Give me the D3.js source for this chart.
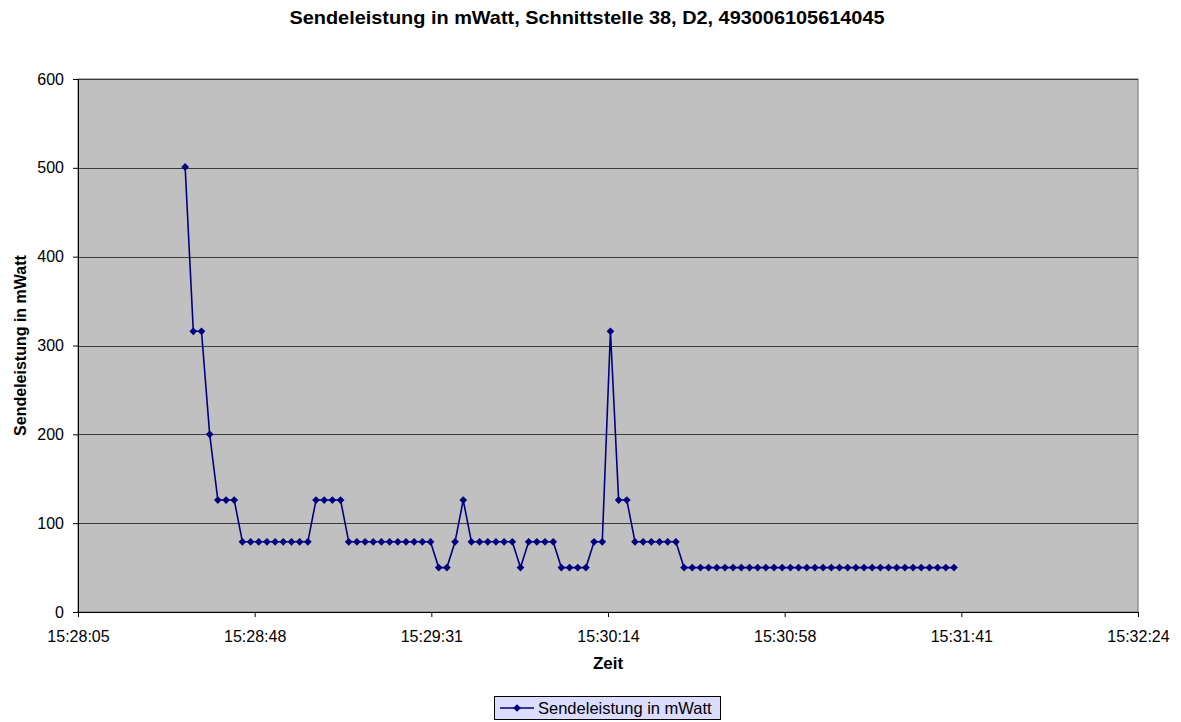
<!DOCTYPE html>
<html>
<head>
<meta charset="utf-8">
<script src="https://cdn.jsdelivr.net/npm/d3@7"></script>
<style>
  body { margin: 0; background: #fff; }
  svg text { font-family: "Liberation Sans", Arial, sans-serif; }
</style>
</head>
<body>
<div class="container"></div>
<script>
const w = 1181;
const h = 722;
const margin = { top: 79, bottom: 110, left: 78, right: 43 };
const width = w - margin.left - margin.right;
const height = h - margin.top - margin.bottom;

const title = "Sendeleistung in mWatt, Schnittstelle 38, D2, 493006105614045";
const seriesName = "Sendeleistung in mWatt";

// sample times (hh:mm:ss)
const times = [
  "15:28:31","15:28:33","15:28:35","15:28:37","15:28:39","15:28:41","15:28:43","15:28:45",
  "15:28:47","15:28:49","15:28:51","15:28:53","15:28:55","15:28:57","15:28:59",
  "15:29:01","15:29:03","15:29:05","15:29:07","15:29:09","15:29:11","15:29:13","15:29:15",
  "15:29:17","15:29:19","15:29:21","15:29:23","15:29:25","15:29:27","15:29:29","15:29:31",
  "15:29:33","15:29:35","15:29:37","15:29:39","15:29:41","15:29:43","15:29:45","15:29:47",
  "15:29:49","15:29:51","15:29:53","15:29:55","15:29:57","15:29:59",
  "15:30:01","15:30:03","15:30:05","15:30:07","15:30:09","15:30:11","15:30:13","15:30:15",
  "15:30:17","15:30:19","15:30:21","15:30:23","15:30:25","15:30:27","15:30:29","15:30:31",
  "15:30:33","15:30:35","15:30:37","15:30:39","15:30:41","15:30:43","15:30:45","15:30:47",
  "15:30:49","15:30:51","15:30:53","15:30:55","15:30:57","15:30:59",
  "15:31:01","15:31:03","15:31:05","15:31:07","15:31:09","15:31:11","15:31:13","15:31:15",
  "15:31:17","15:31:19","15:31:21","15:31:23","15:31:25","15:31:27","15:31:29","15:31:31",
  "15:31:33","15:31:35","15:31:37","15:31:39"
];

// transmit power in mW
const power = [
  501, 316, 316, 200, 126, 126, 126,
  79, 79, 79, 79, 79, 79, 79, 79, 79,
  126, 126, 126, 126,
  79, 79, 79, 79, 79, 79, 79, 79, 79, 79, 79,
  50, 50, 79, 126,
  79, 79, 79, 79, 79, 79,
  50, 79, 79, 79, 79,
  50, 50, 50, 50,
  79, 79, 316, 126, 126,
  79, 79, 79, 79, 79, 79,
  50, 50, 50, 50, 50, 50, 50, 50, 50, 50, 50, 50, 50, 50, 50, 50, 50,
  50, 50, 50, 50, 50, 50, 50, 50, 50, 50, 50, 50, 50, 50, 50, 50, 50
];

// axis in seconds since midnight (Excel: 0.6445 d .. 0.6475 d, step 0.0005 d)
const xMin = 55684.8;
const xMax = 55944.0;
const xStep = 43.2;
const xTickLabels = ["15:28:05","15:28:48","15:29:31","15:30:14","15:30:58","15:31:41","15:32:24"];
const yTicks = [0, 100, 200, 300, 400, 500, 600];

const toSec = s => { const p = s.split(":").map(Number); return p[0] * 3600 + p[1] * 60 + p[2]; };
const data = times.map((t, i) => ({ t: toSec(t), v: power[i] }));

const svg = d3.select('.container').append('svg')
  .attr('width', w)
  .attr('height', h);

const x = d3.scaleLinear().domain([xMin, xMax]).range([0, width]);
const y = d3.scaleLinear().domain([0, 600]).range([height, 0]);

const chart = svg.append('g')
  .attr('transform', `translate(${margin.left}, ${margin.top})`);

// plot area
chart.append('rect')
  .attr('width', width)
  .attr('height', height)
  .attr('fill', '#c0c0c0')
  .attr('stroke', '#808080')
  .attr('stroke-width', 1.2);

// gridlines
chart.append('g')
  .selectAll('line')
  .data(yTicks.filter(d => d > 0))
  .enter().append('line')
  .attr('x1', 0)
  .attr('x2', width)
  .attr('y1', d => Math.round(y(d)) + 0.5)
  .attr('y2', d => Math.round(y(d)) + 0.5)
  .attr('stroke', '#3c3c3c')
  .attr('stroke-width', 1);

// y axis
const yAxis = chart.append('g')
  .call(d3.axisLeft(y).tickValues(yTicks).tickSize(5).tickPadding(9));
yAxis.select('.domain').attr('stroke', '#000');
yAxis.selectAll('text').attr('font-size', 16).attr('fill', '#000');

// x axis
const xTickVals = xTickLabels.map((d, i) => xMin + i * xStep);
const xAxis = chart.append('g')
  .attr('transform', `translate(0, ${height})`)
  .call(d3.axisBottom(x).tickValues(xTickVals).tickSize(5).tickPadding(14)
    .tickFormat((d, i) => xTickLabels[i]));
xAxis.select('.domain').attr('stroke', '#000');
xAxis.selectAll('text').attr('font-size', 16).attr('fill', '#000');

// series
const line = d3.line().x(d => x(d.t)).y(d => y(d.v));
chart.append('path')
  .datum(data)
  .attr('fill', 'none')
  .attr('stroke', '#000080')
  .attr('stroke-width', 1.6)
  .attr('d', line);

const marker = d3.symbol().type(d3.symbolSquare).size(30);
chart.append('g')
  .selectAll('path')
  .data(data)
  .enter().append('path')
  .attr('transform', d => `translate(${x(d.t)}, ${y(d.v)}) rotate(45)`)
  .attr('d', marker)
  .attr('fill', '#000080');

// titles
svg.append('text')
  .attr('x', 587)
  .attr('y', 24)
  .attr('text-anchor', 'middle')
  .attr('font-size', 18.5)
  .attr('font-weight', 'bold')
  .attr('textLength', 595)
  .attr('lengthAdjust', 'spacingAndGlyphs')
  .text(title);

svg.append('text')
  .attr('x', margin.left + width / 2)
  .attr('y', 669)
  .attr('text-anchor', 'middle')
  .attr('font-size', 17)
  .attr('font-weight', 'bold')
  .text('Zeit');

svg.append('text')
  .attr('transform', `translate(26, ${margin.top + height / 2}) rotate(-90)`)
  .attr('text-anchor', 'middle')
  .attr('font-size', 16)
  .attr('font-weight', 'bold')
  .text('Sendeleistung in mWatt');

// legend
const legend = svg.append('g').attr('transform', 'translate(494, 696)');
legend.append('rect')
  .attr('x', 0.5).attr('y', 0.5)
  .attr('width', 226).attr('height', 23)
  .attr('fill', '#dcdcff')
  .attr('stroke', '#000');
legend.append('line')
  .attr('x1', 6).attr('x2', 40)
  .attr('y1', 12).attr('y2', 12)
  .attr('stroke', '#000080').attr('stroke-width', 1.6);
legend.append('path')
  .attr('transform', 'translate(23, 12) rotate(45)')
  .attr('d', marker)
  .attr('fill', '#000080');
legend.append('text')
  .attr('x', 44)
  .attr('y', 18)
  .attr('font-size', 16.5)
  .text(seriesName);
</script>
</body>
</html>
